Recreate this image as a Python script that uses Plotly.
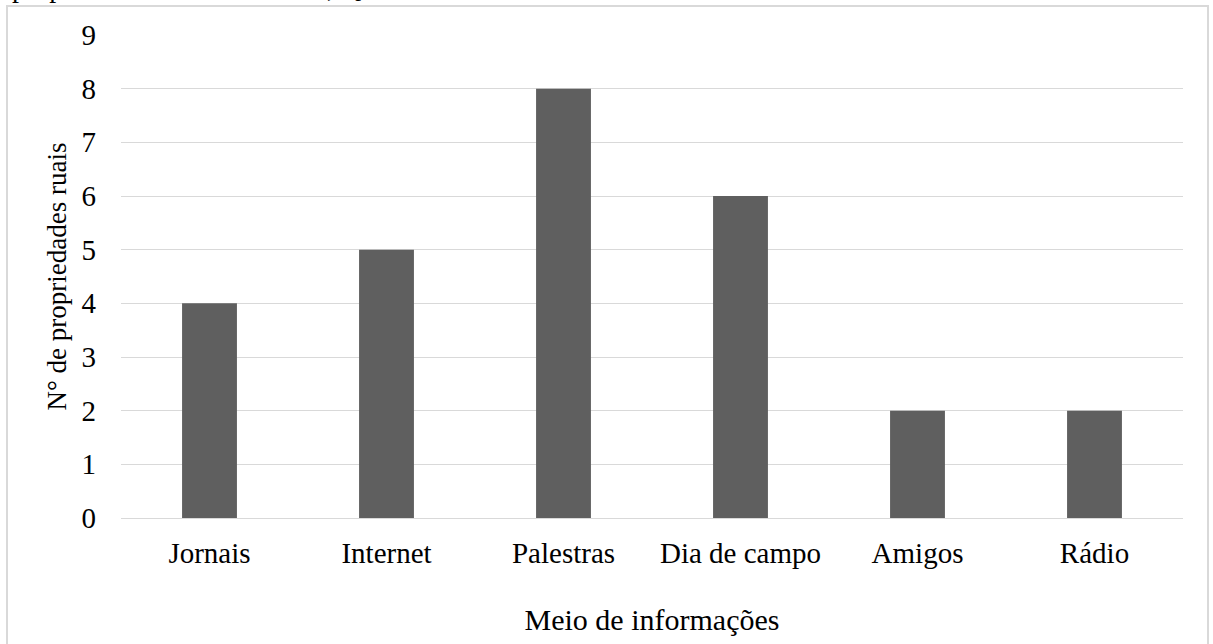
import plotly.graph_objects as go

# Número de propriedades rurais por meio de informação
categorias = ["Jornais", "Internet", "Palestras", "Dia de campo", "Amigos", "Rádio"]
propriedades = [4, 5, 8, 6, 2, 2]
ticks_y = [0, 1, 2, 3, 4, 5, 6, 7, 8, 9]

W, H = 1213, 644
ml, mr, mt, mb = 121, 30, 35, 126
pw, ph = W - ml - mr, H - mt - mb

def px_x(x):
    return (x - ml) / pw

def px_y(y):
    return (H - mb - y) / ph

fonte = "Liberation Serif, Times New Roman, serif"

fig = go.Figure(
    go.Bar(
        x=categorias,
        y=propriedades,
        marker=dict(color="#5f5f5f", line=dict(width=0)),
        hoverinfo="x+y",
    )
)

fig.update_layout(
    width=W,
    height=H,
    margin=dict(l=ml, r=mr, t=mt, b=mb),
    paper_bgcolor="white",
    plot_bgcolor="white",
    bargap=0.69,
    showlegend=False,
    font=dict(family=fonte, size=28, color="black"),
    xaxis=dict(
        showgrid=False,
        showline=True,
        linecolor="#d9d9d9",
        linewidth=1,
        ticks="",
        ticklabelstandoff=9,
        tickfont=dict(size=29),
        title=dict(text="Meio de informações", font=dict(size=30), standoff=41),
    ),
    yaxis=dict(
        range=[0, 9],
        tickvals=ticks_y,
        showgrid=True,
        gridcolor="#d9d9d9",
        gridwidth=1,
        zeroline=False,
        showline=False,
        ticks="",
        ticklabelstandoff=24,
        tickfont=dict(size=29),
        title=dict(text="N° de propriedades ruais", font=dict(size=27), standoff=7),
    ),
    shapes=[
        dict(
            type="rect",
            xref="paper",
            yref="paper",
            x0=px_x(7),
            x1=px_x(1208),
            y0=px_y(660),
            y1=px_y(6),
            line=dict(color="#d9d9d9", width=2),
            fillcolor="rgba(0,0,0,0)",
            layer="below",
        )
    ],
    annotations=[
        dict(
            text="propriedade rural em estudo, Quilombo-SC.",
            xref="paper",
            yref="paper",
            x=px_x(10),
            y=px_y(5),
            xanchor="left",
            yanchor="bottom",
            showarrow=False,
            font=dict(size=28, family=fonte),
        )
    ],
)

fig.write_html("out.html")
